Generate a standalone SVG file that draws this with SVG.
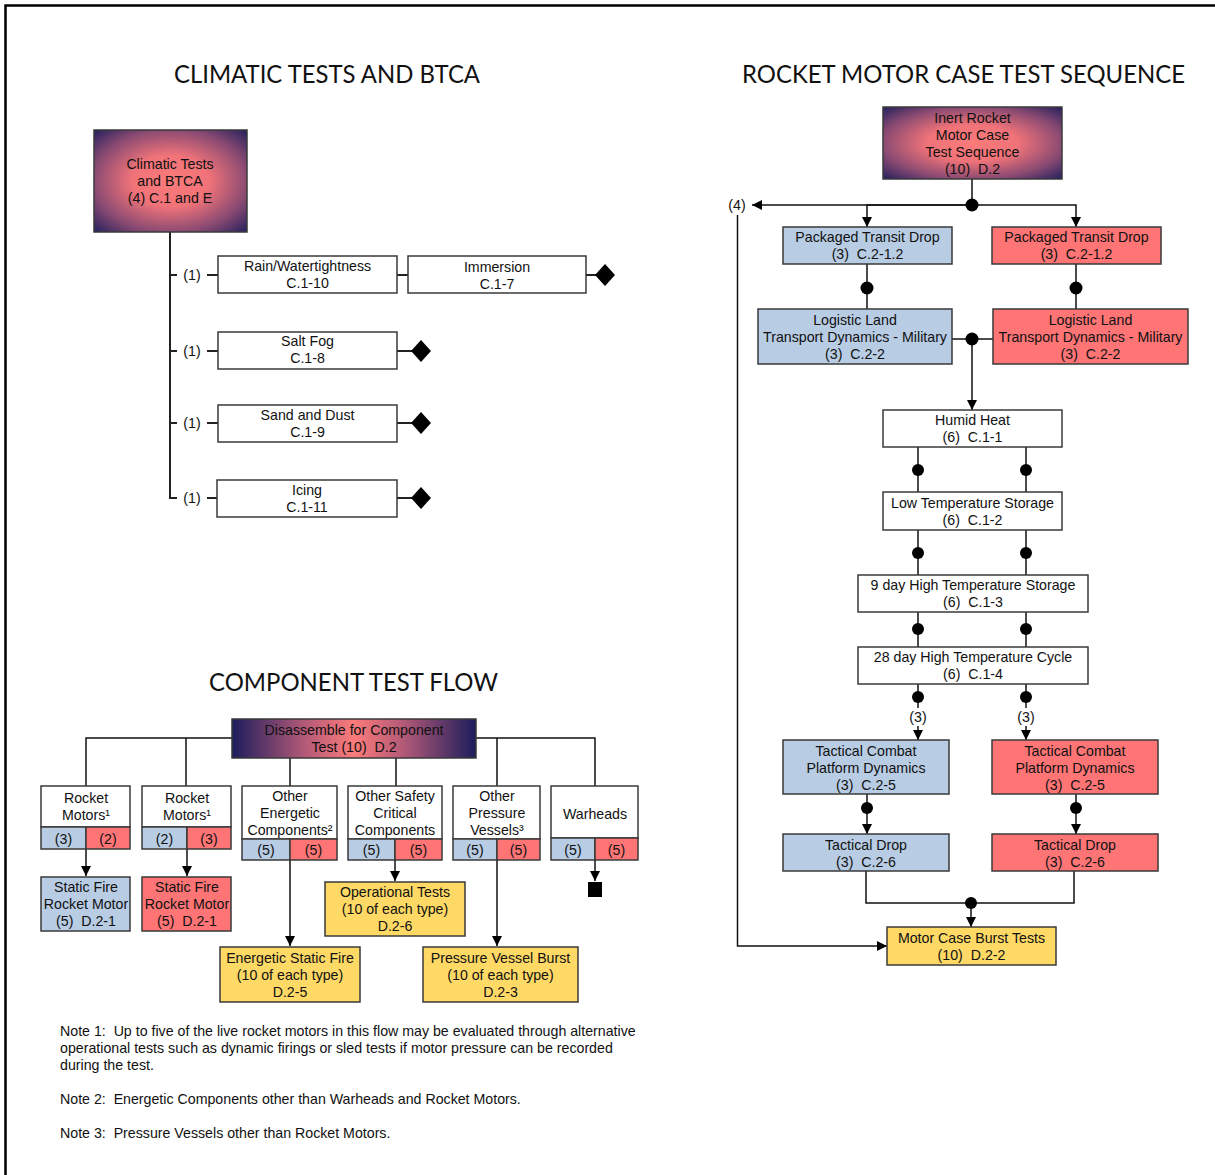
<svg xmlns="http://www.w3.org/2000/svg" width="1215" height="1175" viewBox="0 0 1215 1175">
<defs>
<style>
.bx{stroke:#3a3a3a;stroke-width:1.5}
.w{fill:#ffffff}.b{fill:#b8cce4}.r{fill:#ff7576}.y{fill:#ffd966}
.t{font-family:"Liberation Sans",Arial,sans-serif;font-size:14.2px;fill:#111;text-anchor:middle;white-space:pre}
.n{font-family:"Liberation Sans",Arial,sans-serif;font-size:14.2px;fill:#111;white-space:pre}
.h{font-family:Lato,"Open Sans",sans-serif;font-size:25px;fill:#111;text-anchor:middle}
.c{fill:none;stroke:#111;stroke-width:1.5}
.c2{fill:none;stroke:#222;stroke-width:2}
.a{marker-end:url(#arr)}
.d{fill:#000}
</style>
<marker id="arr" viewBox="0 0 10 10" refX="10" refY="5" markerWidth="10" markerHeight="10" markerUnits="userSpaceOnUse" orient="auto">
<path d="M0,0 L10,5 L0,10 z" fill="#000"/>
</marker>
<radialGradient id="gr" cx="50%" cy="50%" r="72%">
<stop offset="0" stop-color="#fb7b7a"/>
<stop offset="0.35" stop-color="#f07379"/>
<stop offset="0.7" stop-color="#8a4a72"/>
<stop offset="1" stop-color="#1c1d5c"/>
</radialGradient>
<linearGradient id="gl" x1="0" y1="0" x2="1" y2="0">
<stop offset="0" stop-color="#1c1d5c"/>
<stop offset="0.3" stop-color="#b45a78"/>
<stop offset="0.5" stop-color="#fb7b7a"/>
<stop offset="0.7" stop-color="#b45a78"/>
<stop offset="1" stop-color="#1c1d5c"/>
</linearGradient>
</defs>
<rect x="0" y="0" width="1215" height="1175" fill="#ffffff"/>
<path d="M5.5,1175 V5.5 H1215" fill="none" stroke="#000" stroke-width="2.5"/>

<g id="titles">
<text class="h" x="327" y="83" textLength="306" lengthAdjust="spacingAndGlyphs">CLIMATIC TESTS AND BTCA</text>
<text class="h" x="353.5" y="691" textLength="289" lengthAdjust="spacingAndGlyphs">COMPONENT TEST FLOW</text>
<text class="h" x="963.5" y="83" textLength="443" lengthAdjust="spacingAndGlyphs">ROCKET MOTOR CASE TEST SEQUENCE</text>
</g>

<g id="connectors">
<!-- climatic -->
<path class="c2" d="M170,232 V498 H177 M170,275 H177 M170,351 H177 M170,423 H177"/>
<path class="c2" d="M207,275 H218 M207,351 H218 M207,423 H218 M207,498 H217"/>
<path class="c2" d="M397,275 H408 M586,275 H596 M397,351 H412 M397,423 H412 M397,498 H412"/>
<!-- component -->
<path class="c" d="M86,786 V738 H232 M186,738 V786 M476,738 H595 V786 M497,738 V786 M290,758 V786 M396,758 V786"/>
<path class="c a" d="M86,849 V876"/>
<path class="c a" d="M187,849 V876"/>
<path class="c a" d="M290,860 V946"/>
<path class="c a" d="M395,860 V881"/>
<path class="c a" d="M497,860 V946"/>
<path class="c a" d="M595,860 V881"/>
<!-- rocket motor case -->
<path class="c" d="M972,179 V205"/>
<path class="c a" d="M972,205 H752"/>
<path class="c a" d="M972,205 H867 V227"/>
<path class="c a" d="M972,205 H1076 V227"/>
<path class="c" d="M867,264 V309 M1076,264 V309 M952,339 H993"/>
<path class="c a" d="M972,339 V410"/>
<path class="c a" d="M737.5,215 V946 H887"/>
<path class="c" d="M918,447 V492 M1026,447 V492 M918,530 V575 M1026,530 V575 M918,612 V647 M1026,612 V647"/>
<path class="c" d="M918,684 V708 M1026,684 V708"/>
<path class="c a" d="M918,726 V740"/>
<path class="c a" d="M1026,726 V740"/>
<path class="c a" d="M867,794 V834"/>
<path class="c a" d="M1076,794 V834"/>
<path class="c" d="M866,871 V903 H1074 V871"/>
<path class="c a" d="M971,903 V927"/>
<circle class="d" cx="972" cy="205" r="6.5"/>
<circle class="d" cx="867" cy="288" r="6.5"/>
<circle class="d" cx="1076" cy="288" r="6.5"/>
<circle class="d" cx="972" cy="339" r="6.5"/>
<circle class="d" cx="918" cy="470" r="6"/>
<circle class="d" cx="1026" cy="470" r="6"/>
<circle class="d" cx="918" cy="553" r="6"/>
<circle class="d" cx="1026" cy="553" r="6"/>
<circle class="d" cx="918" cy="629" r="6"/>
<circle class="d" cx="1026" cy="629" r="6"/>
<circle class="d" cx="918" cy="697" r="6"/>
<circle class="d" cx="1026" cy="697" r="6"/>
<circle class="d" cx="867" cy="808" r="6"/>
<circle class="d" cx="1076" cy="808" r="6"/>
<circle class="d" cx="971" cy="903" r="6"/>
<text class="t" x="192" y="280">(1)</text>
<text class="t" x="192" y="356">(1)</text>
<text class="t" x="192" y="428">(1)</text>
<text class="t" x="192" y="503">(1)</text>
<text class="t" x="737" y="210">(4)</text>
<text class="t" x="918" y="722">(3)</text>
<text class="t" x="1026" y="722">(3)</text>
</g>

<g id="terminators">
<polygon class="d" points="595,275 605,264 615,275 605,286"/>
<polygon class="d" points="411,351 421,340 431,351 421,362"/>
<polygon class="d" points="411,423 421,412 431,423 421,434"/>
<polygon class="d" points="411,498 421,487 431,498 421,509"/>
<rect class="d" x="588" y="882" width="14" height="15"/>
</g>

<!-- Climatic -->
<g id="climatic">
<rect class="bx" x="94" y="130" width="153" height="102" fill="url(#gr)"/>
<text class="t" x="170" y="169">Climatic Tests</text>
<text class="t" x="170" y="186">and BTCA</text>
<text class="t" x="170" y="203">(4) C.1 and E</text>
</g>
<g id="rain">
<rect class="bx w" x="218" y="256" width="179" height="37"/>
<text class="t" x="307.5" y="271">Rain/Watertightness</text>
<text class="t" x="307.5" y="288">C.1-10</text>
</g>
<g id="immersion">
<rect class="bx w" x="408" y="256" width="178" height="37"/>
<text class="t" x="497" y="272">Immersion</text>
<text class="t" x="497" y="289">C.1-7</text>
</g>
<g id="saltfog">
<rect class="bx w" x="218" y="332" width="179" height="37"/>
<text class="t" x="307.5" y="346">Salt Fog</text>
<text class="t" x="307.5" y="363">C.1-8</text>
</g>
<g id="sand">
<rect class="bx w" x="218" y="405" width="179" height="37"/>
<text class="t" x="307.5" y="420">Sand and Dust</text>
<text class="t" x="307.5" y="437">C.1-9</text>
</g>
<g id="icing">
<rect class="bx w" x="217" y="480" width="180" height="37"/>
<text class="t" x="307" y="495">Icing</text>
<text class="t" x="307" y="512">C.1-11</text>
</g>

<!-- Component test flow -->
<g id="disassemble">
<rect class="bx" x="232" y="719" width="244" height="39" fill="url(#gl)"/>
<text class="t" x="354" y="735">Disassemble for Component</text>
<text class="t" x="354" y="752">Test (10)  D.2</text>
</g>
<g id="rm1">
<rect class="bx w" x="41" y="786" width="89" height="41"/>
<rect class="bx b" x="41" y="827" width="45" height="22"/>
<rect class="bx r" x="86" y="827" width="44" height="22"/>
<text class="t" x="86" y="803">Rocket</text>
<text class="t" x="86" y="820">Motors¹</text>
<text class="t" x="63.5" y="843.5">(3)</text>
<text class="t" x="108" y="843.5">(2)</text>
</g>
<g id="rm2">
<rect class="bx w" x="142" y="786" width="89" height="41"/>
<rect class="bx b" x="142" y="827" width="45" height="22"/>
<rect class="bx r" x="187" y="827" width="44" height="22"/>
<text class="t" x="187" y="803">Rocket</text>
<text class="t" x="187" y="820">Motors¹</text>
<text class="t" x="164.5" y="843.5">(2)</text>
<text class="t" x="209" y="843.5">(3)</text>
</g>
<g id="energetic">
<rect class="bx w" x="242" y="786" width="95" height="53"/>
<rect class="bx b" x="242" y="839" width="48" height="21"/>
<rect class="bx r" x="290" y="839" width="47" height="21"/>
<text class="t" x="290" y="801">Other</text>
<text class="t" x="290" y="818">Energetic</text>
<text class="t" x="290" y="835">Components²</text>
<text class="t" x="266" y="854.5">(5)</text>
<text class="t" x="313.5" y="854.5">(5)</text>
</g>
<g id="safety">
<rect class="bx w" x="348" y="786" width="94" height="53"/>
<rect class="bx b" x="348" y="839" width="47" height="21"/>
<rect class="bx r" x="395" y="839" width="47" height="21"/>
<text class="t" x="395" y="801">Other Safety</text>
<text class="t" x="395" y="818">Critical</text>
<text class="t" x="395" y="835">Components</text>
<text class="t" x="371.5" y="854.5">(5)</text>
<text class="t" x="418.5" y="854.5">(5)</text>
</g>
<g id="pressure">
<rect class="bx w" x="453" y="786" width="87" height="53"/>
<rect class="bx b" x="453" y="839" width="44" height="21"/>
<rect class="bx r" x="497" y="839" width="43" height="21"/>
<text class="t" x="497" y="801">Other</text>
<text class="t" x="497" y="818">Pressure</text>
<text class="t" x="497" y="835">Vessels³</text>
<text class="t" x="475" y="854.5">(5)</text>
<text class="t" x="518.5" y="854.5">(5)</text>
</g>
<g id="warheads">
<rect class="bx w" x="551" y="786" width="87" height="52"/>
<rect class="bx b" x="551" y="838" width="44" height="22"/>
<rect class="bx r" x="595" y="838" width="43" height="22"/>
<text class="t" x="595" y="818.5">Warheads</text>
<text class="t" x="573" y="854.5">(5)</text>
<text class="t" x="616.5" y="854.5">(5)</text>
</g>
<g id="sf1">
<rect class="bx b" x="41" y="877" width="89" height="54"/>
<text class="t" x="86" y="892">Static Fire</text>
<text class="t" x="86" y="909">Rocket Motor</text>
<text class="t" x="86" y="926">(5)  D.2-1</text>
</g>
<g id="sf2">
<rect class="bx r" x="142" y="877" width="89" height="54"/>
<text class="t" x="187" y="892">Static Fire</text>
<text class="t" x="187" y="909">Rocket Motor</text>
<text class="t" x="187" y="926">(5)  D.2-1</text>
</g>
<g id="optests">
<rect class="bx y" x="325" y="882" width="140" height="54"/>
<text class="t" x="395" y="897">Operational Tests</text>
<text class="t" x="395" y="914">(10 of each type)</text>
<text class="t" x="395" y="931">D.2-6</text>
</g>
<g id="esf">
<rect class="bx y" x="220" y="947" width="140" height="55"/>
<text class="t" x="290" y="963">Energetic Static Fire</text>
<text class="t" x="290" y="980">(10 of each type)</text>
<text class="t" x="290" y="997">D.2-5</text>
</g>
<g id="pvb">
<rect class="bx y" x="423" y="947" width="155" height="55"/>
<text class="t" x="500.5" y="963">Pressure Vessel Burst</text>
<text class="t" x="500.5" y="980">(10 of each type)</text>
<text class="t" x="500.5" y="997">D.2-3</text>
</g>

<!-- Rocket motor case -->
<g id="inert">
<rect class="bx" x="883" y="107" width="179" height="72" fill="url(#gr)"/>
<text class="t" x="972.5" y="123">Inert Rocket</text>
<text class="t" x="972.5" y="140">Motor Case</text>
<text class="t" x="972.5" y="157">Test Sequence</text>
<text class="t" x="972.5" y="174">(10)  D.2</text>
</g>
<g id="ptd-b">
<rect class="bx b" x="783" y="227" width="169" height="37"/>
<text class="t" x="867.5" y="242">Packaged Transit Drop</text>
<text class="t" x="867.5" y="259">(3)  C.2-1.2</text>
</g>
<g id="ptd-r">
<rect class="bx r" x="992" y="227" width="169" height="37"/>
<text class="t" x="1076.5" y="242">Packaged Transit Drop</text>
<text class="t" x="1076.5" y="259">(3)  C.2-1.2</text>
</g>
<g id="lltd-b">
<rect class="bx b" x="758" y="309" width="194" height="55"/>
<text class="t" x="855" y="325">Logistic Land</text>
<text class="t" x="855" y="342">Transport Dynamics - Military</text>
<text class="t" x="855" y="359">(3)  C.2-2</text>
</g>
<g id="lltd-r">
<rect class="bx r" x="993" y="309" width="195" height="55"/>
<text class="t" x="1090.5" y="325">Logistic Land</text>
<text class="t" x="1090.5" y="342">Transport Dynamics - Military</text>
<text class="t" x="1090.5" y="359">(3)  C.2-2</text>
</g>
<g id="humid">
<rect class="bx w" x="883" y="410" width="179" height="37"/>
<text class="t" x="972.5" y="425">Humid Heat</text>
<text class="t" x="972.5" y="442">(6)  C.1-1</text>
</g>
<g id="lowtemp">
<rect class="bx w" x="883" y="492" width="179" height="38"/>
<text class="t" x="972.5" y="508">Low Temperature Storage</text>
<text class="t" x="972.5" y="525">(6)  C.1-2</text>
</g>
<g id="high9">
<rect class="bx w" x="858" y="575" width="230" height="37"/>
<text class="t" x="973" y="590">9 day High Temperature Storage</text>
<text class="t" x="973" y="607">(6)  C.1-3</text>
</g>
<g id="high28">
<rect class="bx w" x="858" y="647" width="230" height="37"/>
<text class="t" x="973" y="662">28 day High Temperature Cycle</text>
<text class="t" x="973" y="679">(6)  C.1-4</text>
</g>
<g id="tcpd-b">
<rect class="bx b" x="783" y="740" width="166" height="54"/>
<text class="t" x="866" y="756">Tactical Combat</text>
<text class="t" x="866" y="773">Platform Dynamics</text>
<text class="t" x="866" y="790">(3)  C.2-5</text>
</g>
<g id="tcpd-r">
<rect class="bx r" x="992" y="740" width="166" height="54"/>
<text class="t" x="1075" y="756">Tactical Combat</text>
<text class="t" x="1075" y="773">Platform Dynamics</text>
<text class="t" x="1075" y="790">(3)  C.2-5</text>
</g>
<g id="td-b">
<rect class="bx b" x="783" y="834" width="166" height="37"/>
<text class="t" x="866" y="850">Tactical Drop</text>
<text class="t" x="866" y="867">(3)  C.2-6</text>
</g>
<g id="td-r">
<rect class="bx r" x="992" y="834" width="166" height="37"/>
<text class="t" x="1075" y="850">Tactical Drop</text>
<text class="t" x="1075" y="867">(3)  C.2-6</text>
</g>
<g id="burst">
<rect class="bx y" x="887" y="927" width="169" height="38"/>
<text class="t" x="971.5" y="943">Motor Case Burst Tests</text>
<text class="t" x="971.5" y="960">(10)  D.2-2</text>
</g>

<g id="notes">
<text class="n" x="60" y="1036">Note 1:  Up to five of the live rocket motors in this flow may be evaluated through alternative</text>
<text class="n" x="60" y="1053">operational tests such as dynamic firings or sled tests if motor pressure can be recorded</text>
<text class="n" x="60" y="1070">during the test.</text>
<text class="n" x="60" y="1104">Note 2:  Energetic Components other than Warheads and Rocket Motors.</text>
<text class="n" x="60" y="1138">Note 3:  Pressure Vessels other than Rocket Motors.</text>
</g>
</svg>
